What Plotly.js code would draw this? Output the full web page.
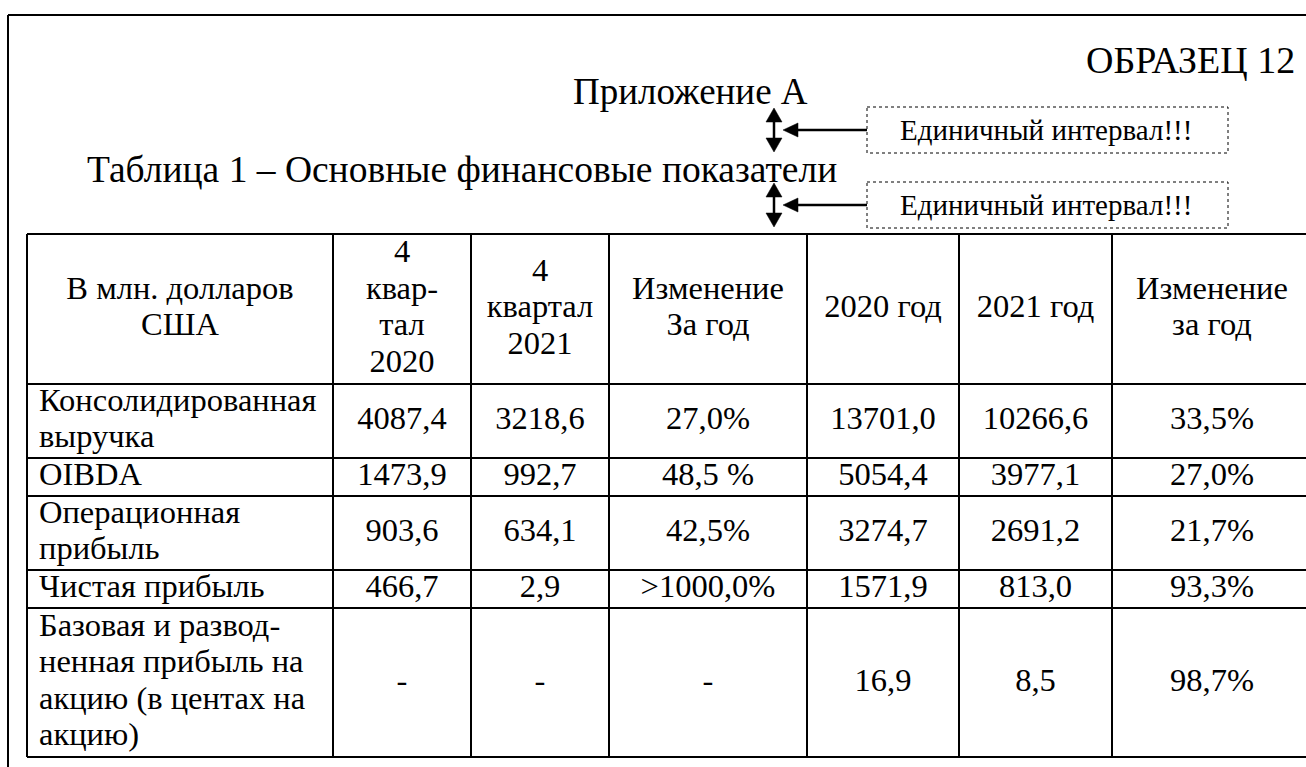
<!DOCTYPE html>
<html>
<head>
<meta charset="utf-8">
<script src="https://cdn.plot.ly/plotly-3.0.1.min.js"></script>
<style>
  html, body { margin: 0; padding: 0; background: #ffffff; }
  #chart { width: 1306px; height: 767px; }
</style>
</head>
<body>
<div id="chart"></div>
<script>
// ---------------- DATA ----------------
const headers = [
  "В млн. долларов\nСША",
  "4\nквар-\nтал\n2020",
  "4\nквартал\n2021",
  "Изменение\nЗа год",
  "2020 год",
  "2021 год",
  "Изменение\nза год"
];
const rowLabels = [
  "Консолидированная\nвыручка",
  "OIBDA",
  "Операционная\nприбыль",
  "Чистая прибыль",
  "Базовая и развод-\nненная прибыль на\nакцию (в центах на\nакцию)"
];
const q4_2020  = [4087.4, 1473.9, 903.6, 466.7, null];
const q4_2021  = [3218.6, 992.7, 634.1, 2.9, null];
const changeQ  = ["27,0%", "48,5 %", "42,5%", ">1000,0%", "-"];
const year2020 = [13701.0, 5054.4, 3274.7, 1571.9, 16.9];
const year2021 = [10266.6, 3977.1, 2691.2, 813.0, 8.5];
const changeY  = ["33,5%", "27,0%", "21,7%", "93,3%", "98,7%"];

const sampleLabel = "ОБРАЗЕЦ 12";
const appendixLabel = "Приложение А";
const tableTitle = "Таблица 1 – Основные финансовые показатели";
const intervalNote = "Единичный интервал!!!";

// ---------------- LAYOUT GEOMETRY ----------------
const W = 1306, H = 767;
const colEdges = [27, 333, 471, 609, 807, 959, 1112, 1312];
const rowEdges = [234, 384, 458, 496, 570, 608, 757];
const FONT = "Liberation Serif";
const CELL_FS = 32.5;
const LS = 36.5;

function fmt(v) { return v == null ? "-" : v.toFixed(1).replace(".", ","); }

const bodyCols = [
  rowLabels,
  q4_2020.map(fmt),
  q4_2021.map(fmt),
  changeQ,
  year2020.map(fmt),
  year2021.map(fmt),
  changeY
];

function cellLines(text, yCenter) {
  const parts = String(text).split("\n");
  const n = parts.length;
  return parts.map((p, k) => ({ t: p, y: yCenter + (k - (n - 1) / 2) * LS }));
}

const traces = [];
function addTextTrace(xs, ys, texts, pos) {
  traces.push({
    type: "scatter", mode: "text",
    x: xs, y: ys, text: texts,
    textposition: pos,
    textfont: { family: FONT, size: CELL_FS, color: "#000000" },
    hoverinfo: "skip", cliponaxis: false, showlegend: false
  });
}

// header row
{
  const xs = [], ys = [], ts = [];
  const yc = (rowEdges[0] + rowEdges[1]) / 2;
  headers.forEach((h, j) => {
    const xc = (colEdges[j] + colEdges[j + 1]) / 2;
    cellLines(h, yc).forEach(l => { xs.push(xc); ys.push(l.y); ts.push(l.t); });
  });
  addTextTrace(xs, ys, ts, "middle center");
}
// body columns
bodyCols.forEach((col, j) => {
  const xs = [], ys = [], ts = [];
  col.forEach((val, i) => {
    const yc = (rowEdges[i + 1] + rowEdges[i + 2]) / 2;
    const x = j === 0 ? colEdges[0] + 12 : (colEdges[j] + colEdges[j + 1]) / 2;
    cellLines(val, yc).forEach(l => { xs.push(x); ys.push(l.y); ts.push(l.t); });
  });
  addTextTrace(xs, ys, ts, j === 0 ? "middle right" : "middle center");
});

// ---------------- SHAPES ----------------
const shapes = [];
const solid = (w) => ({ color: "#000000", width: w });
function line(x0, y0, x1, y1, w) {
  shapes.push({ type: "line", xref: "x", yref: "y", x0, y0, x1, y1, line: solid(w || 2), layer: "above" });
}
// page frame
line(8, 15, W + 5, 15, 2);
line(8, 15, 8, H + 5, 2);
// table grid
rowEdges.forEach(y => line(colEdges[0], y, colEdges[colEdges.length - 1], y, 2));
colEdges.forEach(x => line(x, rowEdges[0], x, rowEdges[rowEdges.length - 1], 2));

// note boxes and arrows
function noteGroup(yTop, yBot) {
  const yc = (yTop + yBot) / 2;
  shapes.push({ type: "rect", xref: "x", yref: "y", x0: 867, x1: 1228, y0: yTop, y1: yBot,
    line: { color: "#000000", width: 1, dash: "dot" }, fillcolor: "rgba(0,0,0,0)" });
  // double vertical arrow
  const ax = 774;
  line(ax, yTop + 12, ax, yBot - 12, 2.5);
  shapes.push({ type: "path", xref: "x", yref: "y",
    path: `M ${ax - 8},${yTop + 15} L ${ax},${yTop + 1} L ${ax + 8},${yTop + 15} Z`,
    fillcolor: "#000000", line: { color: "#000000", width: 0.5 } });
  shapes.push({ type: "path", xref: "x", yref: "y",
    path: `M ${ax - 8},${yBot - 15} L ${ax},${yBot - 1} L ${ax + 8},${yBot - 15} Z`,
    fillcolor: "#000000", line: { color: "#000000", width: 0.5 } });
  // horizontal arrow to the box
  line(794, yc, 867, yc, 2.5);
  shapes.push({ type: "path", xref: "x", yref: "y",
    path: `M 783,${yc} L 798,${yc - 7} L 798,${yc + 7} Z`,
    fillcolor: "#000000", line: { color: "#000000", width: 0.5 } });
}
noteGroup(107, 153);
noteGroup(182, 228);

// ---------------- ANNOTATIONS ----------------
const annotations = [
  { text: sampleLabel, x: 1297, y: 60, xanchor: "right", yanchor: "middle", size: 38 },
  { text: appendixLabel, x: 690, y: 91, xanchor: "center", yanchor: "middle", size: 37 },
  { text: tableTitle, x: 85, y: 169, xanchor: "left", yanchor: "middle", size: 37.5 },
  { text: intervalNote, x: 1046, y: 130, xanchor: "center", yanchor: "middle", size: 29 },
  { text: intervalNote, x: 1046, y: 205, xanchor: "center", yanchor: "middle", size: 29 }
].map(a => ({
  text: a.text, x: a.x, y: a.y, xref: "x", yref: "y",
  xanchor: a.xanchor, yanchor: a.yanchor, showarrow: false,
  font: { family: FONT, size: a.size, color: "#000000" }
}));

const layout = {
  width: W, height: H,
  margin: { l: 0, r: 0, t: 0, b: 0, pad: 0 },
  paper_bgcolor: "#ffffff", plot_bgcolor: "#ffffff",
  font: { family: FONT },
  xaxis: { range: [0, W], visible: false, fixedrange: true },
  yaxis: { range: [H, 0], visible: false, fixedrange: true },
  showlegend: false,
  shapes: shapes,
  annotations: annotations
};

Plotly.newPlot("chart", traces, layout, { displayModeBar: false, staticPlot: true });
</script>
</body>
</html>
